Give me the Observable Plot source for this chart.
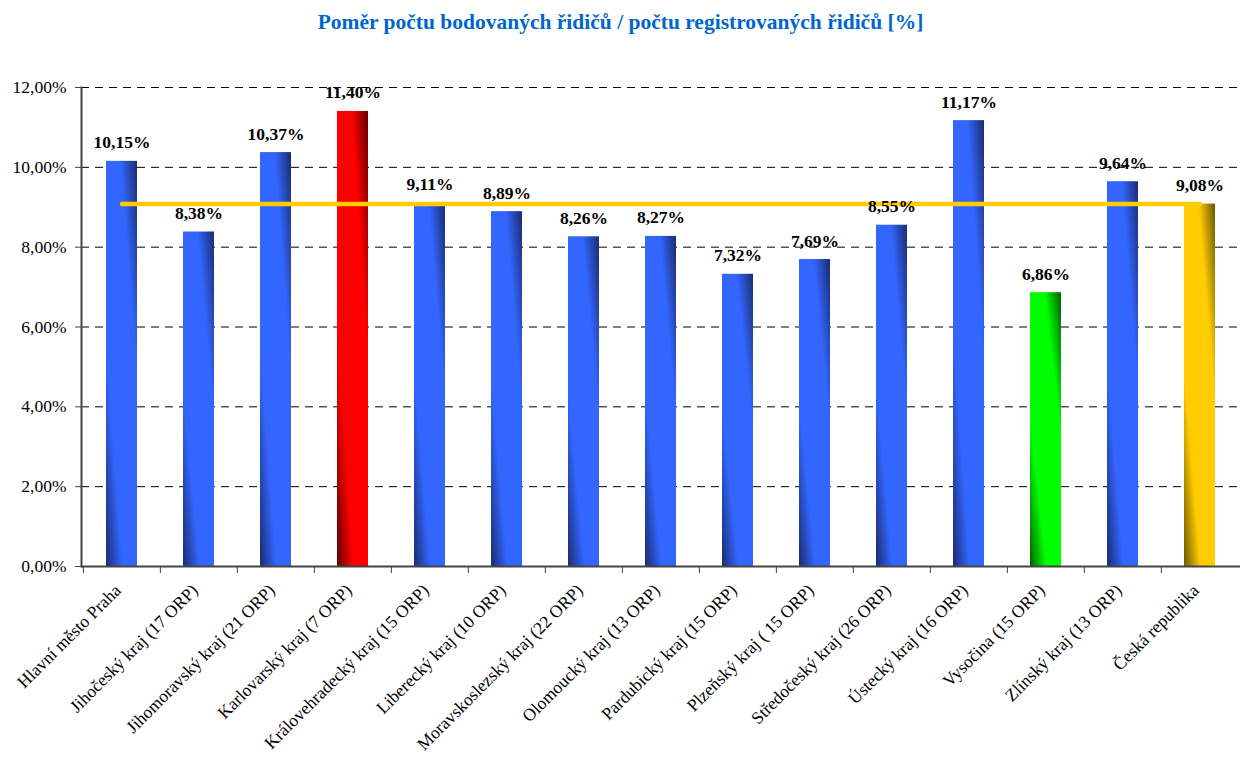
<!DOCTYPE html>
<html>
<head>
<meta charset="utf-8">
<script src="https://cdn.jsdelivr.net/npm/d3@7"></script>
<script src="https://cdn.jsdelivr.net/npm/@observablehq/plot@0.6"></script>
<style>
  html, body { margin: 0; padding: 0; background: #fff; }
  #title { height: 44px; line-height: 44px; text-align: center; font-family: "Liberation Serif", serif; font-weight: bold; font-size: 21.5px; color: #0066CC; }
  svg { display: block; }
</style>
</head>
<body>
<div id="title">Poměr počtu bodovaných řidičů / počtu registrovaných řidičů [%]</div>
<div id="chart"></div>
<script>
const regions = [
  "Hlavní město Praha",
  "Jihočeský kraj (17 ORP)",
  "Jihomoravský kraj (21 ORP)",
  "Karlovarský kraj (7 ORP)",
  "Královehradecký kraj (15 ORP)",
  "Liberecký kraj (10 ORP)",
  "Moravskoslezský kraj (22 ORP)",
  "Olomoucký kraj (13 ORP)",
  "Pardubický kraj (15 ORP)",
  "Plzeňský kraj ( 15 ORP)",
  "Středočeský kraj (26 ORP)",
  "Ústecký kraj (16 ORP)",
  "Vysočina (15 ORP)",
  "Zlínský kraj (13 ORP)",
  "Česká republika"
];
const ratios = [10.15, 8.38, 10.37, 11.40, 9.11, 8.89, 8.26, 8.27, 7.32, 7.69, 8.55, 11.17, 6.86, 9.64, 9.08];
const groups = ["blue","blue","blue","red","blue","blue","blue","blue","blue","blue","blue","blue","green","blue","gold"];
const nationalAverage = 9.08;
const yTicks = [0, 2, 4, 6, 8, 10, 12];

const gradients = {
  blue: ["#3366FF", "#1B2C6E"],
  red: ["#FF0000", "#600000"],
  green: ["#00FF00", "#005F00"],
  gold: ["#FFCC00", "#6B5600"]
};

const data = regions.map((r, i) => ({region: r, value: ratios[i], group: groups[i]}));
const avgLine = regions.map(r => ({region: r, value: nationalAverage}));

const W = 1241, H = 714;
const mL = 81, mR = 1, mT = 43, mB = 192;
const step = (W - mL - mR) / regions.length;
const serif = "Liberation Serif, Times New Roman, serif";
const fmt = v => v.toFixed(2).replace(".", ",") + "%";

function defsMark() {
  const g = d3.create("svg:defs");
  for (const [name, [light, dark]] of Object.entries(gradients)) {
    const lg = g.append("linearGradient").attr("id", "g-" + name)
      .attr("x1", 1).attr("y1", 0).attr("x2", 0).attr("y2", 1);
    lg.append("stop").attr("offset", 0).attr("stop-color", dark);
    lg.append("stop").attr("offset", 0.27).attr("stop-color", light);
    lg.append("stop").attr("offset", 0.73).attr("stop-color", light);
    lg.append("stop").attr("offset", 1).attr("stop-color", dark);
  }
  return g.node();
}

const barMarks = Object.keys(gradients).map(name =>
  Plot.barY(data, {x: "region", y: "value", fill: `url(#g-${name})`, filter: d => d.group === name})
);

const chart = Plot.plot({
  width: W,
  height: H,
  marginLeft: mL,
  marginRight: mR,
  marginTop: mT,
  marginBottom: mB,
  style: {fontFamily: serif, background: "#fff", color: "#000", overflow: "visible"},
  x: {domain: regions, paddingInner: 0.6, paddingOuter: 0.3, label: null},
  y: {domain: [0, 12], label: null},
  marks: [
    defsMark,
    Plot.ruleY(yTicks.filter(t => t > 0), {stroke: "#000", strokeDasharray: "8,6", strokeWidth: 1}),
    ...barMarks,
    Plot.lineY(avgLine, {x: "region", y: "value", stroke: "#FFCC00", strokeWidth: 4.5, strokeLinecap: "round"}),
    Plot.text(data, {x: "region", y: "value", text: d => fmt(d.value), lineAnchor: "bottom", dy: -13, fontWeight: "bold", fontSize: 17.5, fill: "#000"}),
    Plot.axisY({ticks: yTicks, tickFormat: fmt, tickSize: 6, tickPadding: 9, fontSize: 17.5, stroke: "#444", label: null}),
    Plot.frame({anchor: "left", stroke: "#444", strokeWidth: 2}),
    Plot.ruleY([0], {stroke: "#444", strokeWidth: 2}),
    Plot.axisX({tickSize: 7, tickFormat: () => "", dx: -step / 2, stroke: "#444", label: null}),
    Plot.axisX({tickSize: 0, tickRotate: -45, tickPadding: 21, dx: -4, fontSize: 17.5, label: null, style: {letterSpacing: "0.2px"}})
  ]
});
document.getElementById("chart").appendChild(chart);
</script>
</body>
</html>
